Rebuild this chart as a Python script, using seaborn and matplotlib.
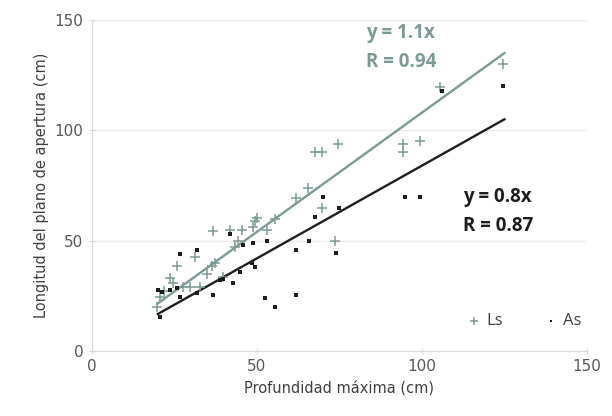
import numpy as np
import pandas as pd
import matplotlib
matplotlib.use("Agg")
import matplotlib.pyplot as plt
import seaborn as sns

# Values
ls_x = [19.7, 20.6, 22.0, 23.6, 24.5, 25.8, 27.5, 29.7, 31.2, 32.7, 34.8, 36.4,
        36.7, 37.3, 39.7, 41.8, 43.3, 44.2, 45.5, 48.8, 49.5, 50.2, 53.0, 55.5,
        61.8, 65.5, 67.6, 69.7, 69.7, 73.6, 74.5, 94.2, 94.2, 99.4, 105.5, 124.5]
ls_y = [20.0, 24.4, 27.0, 33.0, 30.8, 38.5, 29.0, 29.0, 42.5, 29.0, 35.0, 38.5,
        54.3, 40.0, 33.5, 55.0, 47.0, 50.0, 55.0, 56.0, 59.0, 60.5, 55.0, 59.7,
        69.5, 74.0, 90.0, 90.0, 65.0, 50.0, 94.0, 94.0, 90.0, 95.0, 119.5, 130.0]

as_x = [20.6, 20.0, 21.2, 23.6, 25.8, 26.7, 26.7, 31.8, 32.0, 36.7, 39.7, 38.8,
        42.7, 41.8, 44.8, 45.7, 48.5, 48.8, 49.4, 53.0, 52.4, 55.5, 61.8, 61.8,
        65.8, 67.6, 70.0, 75.0, 74.0, 95.0, 99.4, 106.0, 124.5]
as_y = [15.5, 27.6, 26.7, 27.6, 28.5, 43.9, 24.4, 46.0, 26.2, 25.3, 32.6, 32.0,
        30.8, 53.0, 35.7, 48.0, 39.8, 48.9, 38.0, 50.0, 24.0, 20.0, 46.0, 25.5,
        50.0, 60.6, 70.0, 64.7, 44.3, 70.0, 70.0, 117.6, 120.0]

# trend lines (through origin) as drawn in the picture
trend_x = [20, 125]
ls_slope = 1.08
as_slope = 0.84

ls_color = "#7c9a95"
as_color = "#1e1e1e"

fig = plt.figure(figsize=(6.12, 4.16), dpi=100)
ax = fig.add_axes([0.150, 0.156, 0.809, 0.796])
plt.rcParams['font.family'] = ['Open Sans', 'DejaVu Sans']

sns.lineplot(x=trend_x, y=[ls_slope * v for v in trend_x], color=ls_color,
             linewidth=1.7, ax=ax, legend=False)
sns.lineplot(x=trend_x, y=[as_slope * v for v in trend_x], color=as_color,
             linewidth=1.7, ax=ax, legend=False)

sns.scatterplot(x=ls_x, y=ls_y, marker="+", s=50, color=ls_color,
                linewidth=1.1, ax=ax, label="Ls", zorder=3)
sns.scatterplot(x=as_x, y=as_y, marker="s", s=6, color=as_color,
                linewidth=0, ax=ax, label="As", zorder=3)

ax.set_xlim(0, 150)
ax.set_ylim(0, 150)
ax.set_xticks([0, 50, 100, 150])
ax.set_yticks([0, 50, 100, 150])
ax.grid(axis="y", color="#ebebeb", linewidth=1)
ax.set_axisbelow(True)
for s in ["top", "right"]:
    ax.spines[s].set_visible(False)
for s in ["left", "bottom"]:
    ax.spines[s].set_color("#d9d9d9")
ax.tick_params(direction="inout", length=5, color="#d9d9d9",
               labelcolor="#595959", labelsize=11)

ax.set_xlabel("Profundidad máxima (cm)", fontsize=10.5, color="#404040")
ax.set_ylabel("Longitud del plano de apertura (cm)", fontsize=10.5, color="#404040")

ax.text(93.6, 144, "y = 1.1x", color=ls_color, fontsize=13.5, fontweight="bold",
        ha="center", va="center")
ax.text(93.6, 130.8, "R = 0.94", color=ls_color, fontsize=13.5, fontweight="bold",
        ha="center", va="center")
ax.text(112.4, 70, "y = 0.8x", color=as_color, fontsize=13.5, fontweight="bold",
        va="center")
ax.text(112.4, 56.6, "R = 0.87", color=as_color, fontsize=13.5, fontweight="bold",
        va="center")

ax.legend(loc="lower right", ncol=2, frameon=False, fontsize=12,
          handlelength=0.9, handletextpad=0.3, columnspacing=2.4,
          markerscale=0.8, labelcolor="#404040", bbox_to_anchor=(1.02, 0.02))

fig.savefig("out.png", dpi=100)
